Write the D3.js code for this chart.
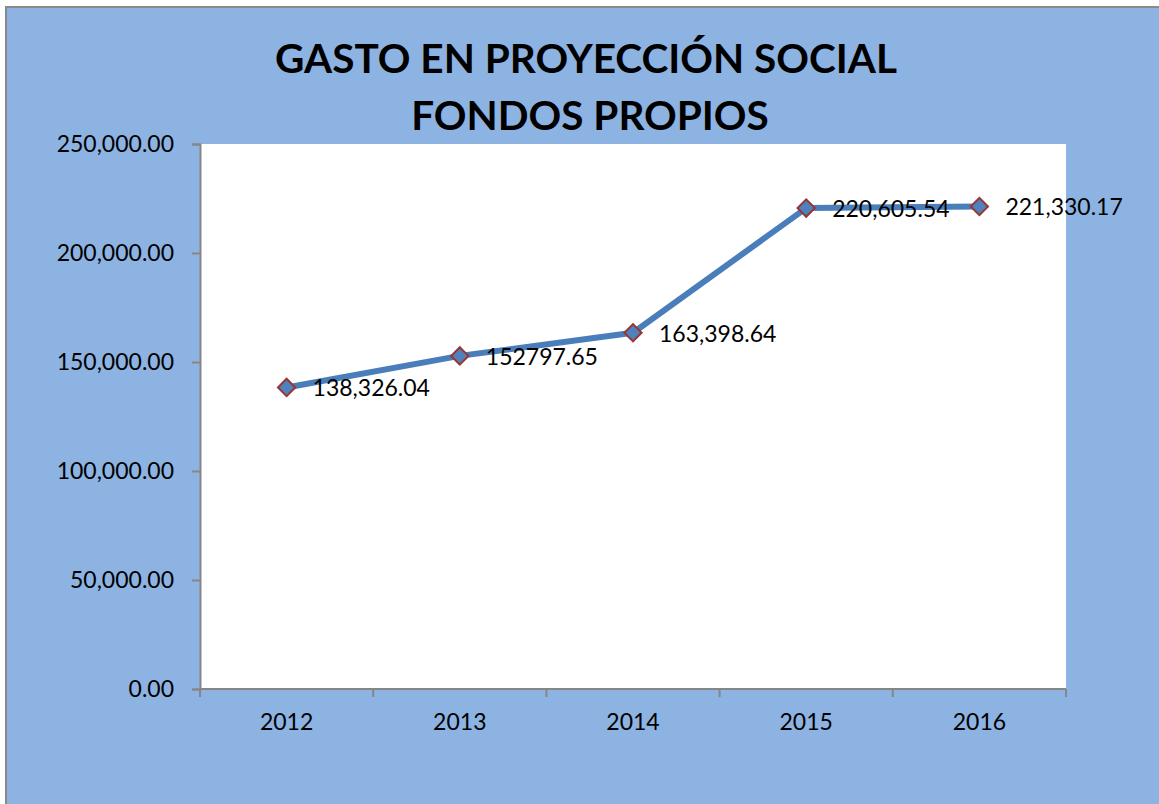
<!DOCTYPE html>
<html><head><meta charset="utf-8">
<script src="https://cdn.jsdelivr.net/npm/d3@7"></script>
<style>html,body{margin:0;padding:0;background:#fff;overflow:hidden}</style>
</head><body><svg id="c" width="1159" height="804"></svg>
<script>
const years = ["2012","2013","2014","2015","2016"];
const values = [138326.04, 152797.65, 163398.64, 220605.54, 221330.17];
const labels = ["138,326.04","152797.65","163,398.64","220,605.54","221,330.17"];
const yTicks = [0, 50000, 100000, 150000, 200000, 250000];
const titleLines = ["GASTO EN PROYECCIÓN SOCIAL", "FONDOS PROPIOS"];

const svg = d3.select("#c");
const font = "Lato, 'Open Sans', sans-serif";
const W = 1159, H = 804;
svg.append("rect").attr("x",6).attr("y",7).attr("width",W+20).attr("height",H+20)
  .attr("fill","#8db3e2").attr("stroke","#898989").attr("stroke-width",2);

const m = {left:200, top:144, right:1066, bottom:689};
svg.append("rect").attr("x",m.left).attr("y",m.top).attr("width",m.right-m.left).attr("height",m.bottom-m.top).attr("fill","#fff");

const x = d3.scaleBand().domain(years).range([m.left, m.right]).padding(0);
const y = d3.scaleLinear().domain([0,250000]).range([m.bottom, m.top]);
const fmt = d3.format(",.2f");

const ya = svg.append("g").attr("transform",`translate(${m.left},0)`)
  .call(d3.axisLeft(y).tickValues(yTicks).tickFormat(fmt).tickSizeOuter(0).tickSize(8).tickPadding(18));
const xa = svg.append("g").attr("transform",`translate(0,${m.bottom})`)
  .call(d3.axisBottom(x).tickSize(0).tickPadding(25));
const bounds = years.map(d=>x(d)).concat([m.right]);
xa.selectAll(".bt").data(bounds).enter().append("line").attr("class","bt")
  .attr("x1",d=>d).attr("x2",d=>d).attr("y1",0).attr("y2",8);
svg.selectAll(".domain").attr("stroke","#868686").attr("stroke-width",2);
svg.selectAll(".tick line, .bt").attr("stroke","#868686").attr("stroke-width",2);
svg.selectAll(".tick text").attr("font-family",font).attr("font-size",23).attr("fill","#000");
xa.select(".domain").attr("d",`M${m.left},0H${m.right}`);

const cx = d => x(d) + x.bandwidth()/2;
const line = d3.line().x((d,i)=>cx(years[i])).y(d=>y(d));
svg.append("path").datum(values).attr("d",line).attr("fill","none")
  .attr("stroke","#4a7ebb").attr("stroke-width",6).attr("stroke-linejoin","round");

svg.selectAll(".mk").data(values).enter().append("path").attr("class","mk")
  .attr("d",d3.symbol(d3.symbolSquare,150)())
  .attr("transform",(d,i)=>`translate(${cx(years[i])},${y(d)}) rotate(45)`)
  .attr("fill","#4f81bd").attr("stroke","#953735").attr("stroke-width",2);

svg.selectAll(".lbl").data(values).enter().append("text").attr("class","lbl")
  .attr("x",(d,i)=>cx(years[i])+26).attr("y",d=>y(d)+3)
  .attr("dominant-baseline","middle")
  .attr("font-family",font).attr("font-size",23).attr("fill","#000")
  .text((d,i)=>labels[i]);

const tb = [73, 130];
const tc = [586, 590];
titleLines.forEach((t,i)=>{
  svg.append("text").attr("x",tc[i]).attr("y",tb[i]).attr("text-anchor","middle")
    .attr("font-family",font).attr("font-weight","bold").attr("font-size",40.5).attr("fill","#000").text(t);
});
</script></body></html>
